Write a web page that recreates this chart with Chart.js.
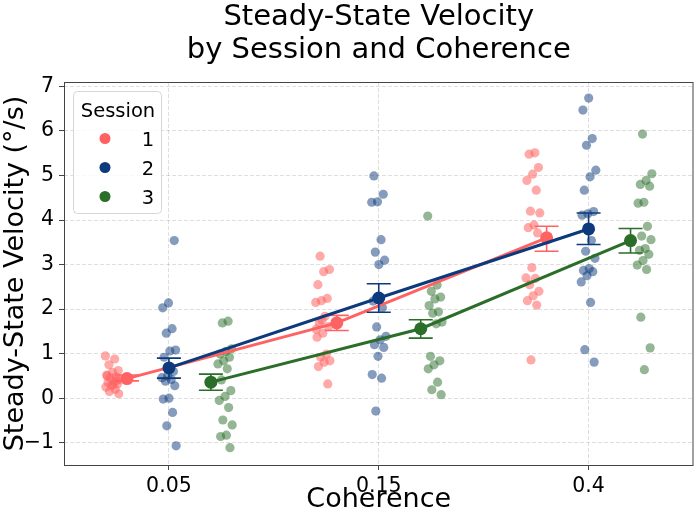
<!DOCTYPE html>
<html>
<head>
<meta charset="utf-8">
<script src="https://cdn.jsdelivr.net/npm/chart.js@4.4.0/dist/chart.umd.min.js"></script>
<style>
  html, body { margin: 0; padding: 0; background: #fff; }
</style>
</head>
<body>
<canvas id="velocityChart" width="700" height="515"></canvas>
<script>
// categories and sessions
const coherenceLabels = ['0.05', '0.15', '0.4'];
const sessionNames = ['1', '2', '3'];
const yTickValues = [-1, 0, 1, 2, 3, 4, 5, 6, 7];

// individual participant velocities (deg/s), one array per session x coherence
const s1_c005 = [0.95, 0.88, 0.75, 0.62, 0.58, 0.52, 0.48, 0.45, 0.42, 0.38, 0.35, 0.32, 0.28, 0.25, 0.2, 0.15, 0.1, 0.3, 0.5, 0.4];
const s1_c015 = [3.19, 2.89, 2.84, 2.55, 2.24, 2.19, 2.15, 1.84, 1.69, 1.61, 1.46, 1.37, 0.99, 0.92, 0.84, 0.81, 0.71, 0.32, 1.75, 1.55];
const s1_c04 = [5.51, 5.48, 5.18, 5.03, 4.89, 4.67, 4.2, 4.16, 3.89, 3.83, 3.71, 2.93, 2.7, 2.69, 2.55, 2.4, 2.3, 2.19, 2.09, 0.86];

const s2_c005 = [3.54, 2.14, 2.03, 1.56, 1.46, 1.08, 1.06, 0.92, 0.6, 0.5, 0.46, 0.42, 0.38, 0.28, 0.0, -0.02, -0.32, -0.62, -1.07];
const s2_c015 = [4.99, 4.58, 4.41, 4.4, 3.56, 3.28, 3.1, 3.0, 2.18, 2.03, 1.6, 1.39, 1.31, 1.2, 1.14, 0.94, 0.53, 0.45, -0.29];
const s2_c04 = [6.74, 6.47, 5.83, 5.68, 5.12, 4.97, 4.67, 4.19, 4.14, 4.11, 3.54, 3.3, 3.14, 2.91, 2.87, 2.84, 2.75, 2.61, 2.15, 1.09, 0.81];

const s3_c005 = [1.73, 1.69, 1.11, 1.05, 0.99, 0.92, 0.84, 0.77, 0.66, 0.41, 0.17, 0.04, -0.05, -0.21, -0.49, -0.6, -0.83, -0.86, -1.11];
const s3_c015 = [4.09, 2.54, 2.4, 2.27, 2.23, 2.08, 1.94, 1.91, 1.71, 1.67, 0.94, 0.84, 0.75, 0.66, 0.36, 0.19, 0.08];
const s3_c04 = [5.93, 5.04, 4.89, 4.8, 4.76, 4.4, 4.38, 3.86, 3.64, 3.56, 3.36, 3.32, 3.23, 3.09, 2.99, 2.89, 1.82, 1.13, 0.64];

// session means and error bar limits
const s1Means = [0.44, 1.69, 3.6];
const s1Lower = [0.39, 1.52, 3.3];
const s1Upper = [0.52, 1.86, 3.86];
const s2Means = [0.68, 2.25, 3.8];
const s2Lower = [0.45, 1.93, 3.45];
const s2Upper = [0.9, 2.57, 4.16];
const s3Means = [0.36, 1.56, 3.54];
const s3Lower = [0.18, 1.35, 3.26];
const s3Upper = [0.54, 1.76, 3.81];

const sessionColors = ['#ff6262', '#0d3a7c', '#2a6e2a'];
const sessionFaded = ['rgba(255,98,98,0.55)', 'rgba(13,58,124,0.5)', 'rgba(42,110,42,0.5)'];

const FONT = '"DejaVu Sans", sans-serif';
Chart.defaults.font.family = FONT;
Chart.defaults.color = '#000';

const pointGroups = [[s1_c005, s1_c015, s1_c04], [s2_c005, s2_c015, s2_c04], [s3_c005, s3_c015, s3_c04]];
const meanGroups = [s1Means, s2Means, s3Means];
const lowerGroups = [s1Lower, s2Lower, s3Lower];
const upperGroups = [s1Upper, s2Upper, s3Upper];

const stripOffset = [-0.267, 0, 0.267];
const meanOffset = [-0.2, 0, 0.2];

// fixed (non random) spread of points inside each strip
function jitter(i) {
  return (((i * 0.618034) % 1) - 0.5) * 0.072;
}

const datasets = [];
sessionNames.forEach((name, s) => {
  datasets.push({
    label: 'Session ' + name + ' mean',
    data: meanGroups[s].map((m, c) => ({ x: c + meanOffset[s], y: m })),
    errLow: lowerGroups[s],
    errHigh: upperGroups[s],
    showLine: true,
    borderColor: sessionColors[s],
    backgroundColor: sessionColors[s],
    borderWidth: 3,
    pointRadius: 6.5,
    pointBorderWidth: 0,
    order: 3 - s
  });
});
sessionNames.forEach((name, s) => {
  const pts = [];
  pointGroups[s].forEach((vals, c) => {
    vals.forEach((v, i) => pts.push({ x: c + stripOffset[s] + jitter(i + c * 7 + s * 3), y: v }));
  });
  datasets.push({
    label: 'Session ' + name,
    data: pts,
    backgroundColor: sessionFaded[s],
    borderWidth: 0,
    pointRadius: 4.6,
    order: 4 + s
  });
});

// error bars, frame, title and legend
const decorations = {
  id: 'decorations',
  beforeDatasetDraw(chart, args) {
    const ds = chart.data.datasets[args.index];
    if (!ds.errLow) return;
    const ctx = chart.ctx;
    const xs = chart.scales.x, ys = chart.scales.y;
    ctx.save();
    ctx.strokeStyle = ds.borderColor;
    ctx.lineWidth = 1.6;
    ds.data.forEach((p, i) => {
      const px = xs.getPixelForValue(p.x);
      const y0 = ys.getPixelForValue(ds.errLow[i]);
      const y1 = ys.getPixelForValue(ds.errHigh[i]);
      ctx.beginPath();
      ctx.moveTo(px, y0); ctx.lineTo(px, y1);
      ctx.moveTo(px - 12, y0); ctx.lineTo(px + 12, y0);
      ctx.moveTo(px - 12, y1); ctx.lineTo(px + 12, y1);
      ctx.stroke();
    });
    ctx.restore();
  },
  afterDraw(chart) {
    const ctx = chart.ctx;
    const a = chart.chartArea;
    ctx.save();
    // axes frame
    ctx.strokeStyle = '#444';
    ctx.lineWidth = 1;
    ctx.strokeRect(a.left + 0.5, a.top + 0.5, a.right - a.left - 1, a.bottom - a.top);

    // title
    const cx = (a.left + a.right) / 2;
    ctx.fillStyle = '#000';
    ctx.textAlign = 'center';
    ctx.textBaseline = 'alphabetic';
    ctx.font = '29px ' + FONT;
    ctx.fillText('Steady-State Velocity', cx, 24.5);
    ctx.fillText('by Session and Coherence', cx, 58);

    // legend
    const lx = 73, ly = 91, lw = 88, lh = 122;
    ctx.beginPath();
    ctx.roundRect(lx + 0.5, ly + 0.5, lw, lh, 4);
    ctx.fillStyle = 'rgba(255,255,255,0.8)';
    ctx.fill();
    ctx.strokeStyle = '#d6d6d6';
    ctx.stroke();
    ctx.fillStyle = '#000';
    ctx.font = '19.5px ' + FONT;
    ctx.textAlign = 'center';
    ctx.fillText('Session', lx + lw / 2 + 1, 117);
    sessionNames.forEach((name, s) => {
      const yy = 138.5 + s * 29;
      ctx.beginPath();
      ctx.arc(105, yy, 5.5, 0, Math.PI * 2);
      ctx.fillStyle = sessionColors[s];
      ctx.fill();
      ctx.fillStyle = '#000';
      ctx.fillText(name, 148, yy + 7);
    });
    ctx.restore();
  }
};

new Chart(document.getElementById('velocityChart'), {
  type: 'scatter',
  data: { datasets: datasets },
  plugins: [decorations],
  options: {
    responsive: false,
    animation: false,
    layout: { padding: { top: 82, right: 2, left: 0, bottom: 0 } },
    plugins: {
      legend: { display: false },
      tooltip: { enabled: false },
      title: { display: false }
    },
    scales: {
      x: {
        type: 'linear',
        min: -0.5,
        max: 2.5,
        afterFit: (scale) => { scale.height = 50; },
        afterBuildTicks: (scale) => { scale.ticks = coherenceLabels.map((l, i) => ({ value: i })); },
        ticks: {
          font: { size: 20.5 },
          padding: 4,
          callback: (v) => coherenceLabels[v]
        },
        grid: { color: 'rgba(0,0,0,0.16)', lineWidth: 0.8, tickColor: '#444', tickLength: 5, tickWidth: 1 },
        border: { display: false, dash: [4, 2] },
        title: { display: true, text: 'Coherence', font: { size: 27 }, padding: { top: 0, bottom: -1.5 } }
      },
      y: {
        type: 'linear',
        min: -1.5,
        max: 7.1,
        afterFit: (scale) => { scale.width = 64; },
        afterBuildTicks: (scale) => { scale.ticks = yTickValues.map(v => ({ value: v })); },
        ticks: {
          font: { size: 20.5 },
          padding: 5,
          callback: (v) => String(v).replace('-', '\u2212')
        },
        grid: { color: 'rgba(0,0,0,0.16)', lineWidth: 0.8, tickColor: '#444', tickLength: 5, tickWidth: 1 },
        border: { display: false, dash: [4, 2] },
        title: { display: true, text: 'Steady-State Velocity (°/s)', font: { size: 27 }, padding: { top: 0, bottom: 0 } }
      }
    }
  }
});
</script>
</body>
</html>
